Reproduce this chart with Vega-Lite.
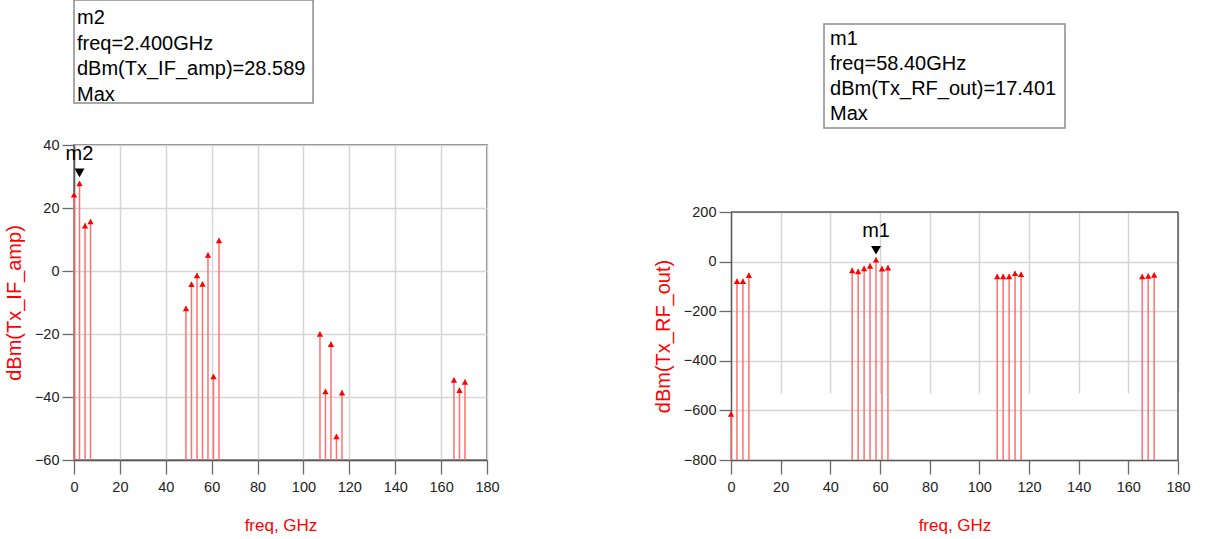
{
  "$schema": "https://vega.github.io/schema/vega-lite/v6.json",
  "padding": {"left": 3, "top": -2, "right": 0, "bottom": 0},
  "background": "white",
  "datasets": {
    "tx_if_amp": [
      {"freq": 0, "dbm": 25.0},
      {"freq": 2.4, "dbm": 28.589},
      {"freq": 4.8, "dbm": 15.2},
      {"freq": 7.2, "dbm": 16.5},
      {"freq": 48.8, "dbm": -11.1},
      {"freq": 51.2, "dbm": -3.4},
      {"freq": 53.6, "dbm": -0.6},
      {"freq": 56.0, "dbm": -3.3},
      {"freq": 58.4, "dbm": 5.9},
      {"freq": 60.8, "dbm": -32.7},
      {"freq": 63.2, "dbm": 10.5},
      {"freq": 107.2, "dbm": -19.2},
      {"freq": 109.6, "dbm": -37.4},
      {"freq": 112.0, "dbm": -22.4},
      {"freq": 114.4, "dbm": -51.7},
      {"freq": 116.8, "dbm": -37.8},
      {"freq": 165.6, "dbm": -33.8},
      {"freq": 168.0, "dbm": -37.0},
      {"freq": 170.4, "dbm": -34.4}
    ],
    "tx_rf_out": [
      {"freq": 0, "dbm": -604},
      {"freq": 2.4, "dbm": -69},
      {"freq": 4.8, "dbm": -69},
      {"freq": 7.2, "dbm": -45},
      {"freq": 48.8, "dbm": -25},
      {"freq": 51.2, "dbm": -29},
      {"freq": 53.6, "dbm": -17},
      {"freq": 56.0, "dbm": -7},
      {"freq": 58.4, "dbm": 17.401},
      {"freq": 60.8, "dbm": -18},
      {"freq": 63.2, "dbm": -14},
      {"freq": 107.2, "dbm": -50},
      {"freq": 109.6, "dbm": -50},
      {"freq": 112.0, "dbm": -50},
      {"freq": 114.4, "dbm": -37},
      {"freq": 116.8, "dbm": -41},
      {"freq": 165.6, "dbm": -50},
      {"freq": 168.0, "dbm": -48},
      {"freq": 170.4, "dbm": -44}
    ]
  },
  "config": {
    "font": "Liberation Sans",
    "view": {"stroke": "#5a5a5a", "strokeWidth": 1.5},
    "axis": {
      "domainColor": "#5a5a5a",
      "domainWidth": 1.5,
      "tickColor": "#6a6a6a",
      "tickWidth": 1.3,
      "gridColor": "#d6d6d6",
      "gridWidth": 1.5,
      "labelFont": "Liberation Sans",
      "labelFontSize": 14.5,
      "labelColor": "#222222",
      "labelFlush": false,
      "titleFont": "Liberation Sans",
      "titleColor": "#ff0000",
      "titleFontWeight": "normal"
    },
    "axisX": {"labelPadding": 6, "titlePadding": 24, "titleFontSize": 17},
    "axisY": {"labelPadding": 3, "titlePadding": 10, "titleFontSize": 20}
  },
  "spacing": 153,
  "hconcat": [
    {
      "width": 413,
      "height": 315,
      "layer": [
        {
          "data": {"name": "tx_if_amp"},
          "mark": {"type": "rule", "color": "#ff7070", "strokeWidth": 1.5},
          "encoding": {
            "x": {
              "field": "freq", "type": "quantitative", "title": "freq, GHz",
              "scale": {"domain": [0, 180], "nice": false},
              "axis": {
                "values": [0,10,20,30,40,50,60,70,80,90,100,110,120,130,140,150,160,170,180],
                "labelExpr": "datum.value % 20 === 0 ? datum.label : ''",
                "tickSize": {"condition": {"test": "datum.value % 20 === 0", "value": 14}, "value": 7},
                "gridOpacity": {"condition": {"test": "datum.value % 20 === 0", "value": 1}, "value": 0}
              }
            },
            "y": {
              "field": "dbm", "type": "quantitative", "title": "dBm(Tx_IF_amp)",
              "scale": {"domain": [-60, 40], "nice": false, "zero": false},
              "axis": {
                "values": [-60,-50,-40,-30,-20,-10,0,10,20,30,40],
                "labelExpr": "datum.value % 20 === 0 ? datum.label : ''",
                "tickSize": {"condition": {"test": "datum.value % 20 === 0", "value": 12}, "value": 6},
                "gridOpacity": {"condition": {"test": "datum.value % 20 === 0", "value": 1}, "value": 0}
              }
            },
            "y2": {"datum": -60}
          }
        },
        {
          "data": {"name": "tx_if_amp"},
          "mark": {"type": "point", "shape": "triangle-up", "filled": true, "color": "#ff0000", "opacity": 1, "size": 40, "yOffset": 2.6},
          "encoding": {
            "x": {"field": "freq", "type": "quantitative", "title": "freq, GHz"},
            "y": {"field": "dbm", "type": "quantitative", "title": "dBm(Tx_IF_amp)"}
          }
        },
        {
          "data": {"values": [{}]},
          "mark": {"type": "point", "shape": "triangle-down", "filled": true, "color": "#000000", "opacity": 1, "size": 100, "yOffset": -8},
          "encoding": {
            "x": {"datum": 2.4, "type": "quantitative", "title": "freq, GHz"},
            "y": {"datum": 28.589, "type": "quantitative", "title": "dBm(Tx_IF_amp)"}
          }
        },
        {
          "data": {"values": [{}]},
          "mark": {"type": "text", "text": "m2", "fontSize": 20, "color": "#000000", "baseline": "middle", "align": "center", "yOffset": -27},
          "encoding": {
            "x": {"datum": 2.4, "type": "quantitative", "title": "freq, GHz"},
            "y": {"datum": 28.589, "type": "quantitative", "title": "dBm(Tx_IF_amp)"}
          }
        },
        {
          "data": {"values": [{}]},
          "mark": {"type": "rect", "fill": "#ffffff", "stroke": "#8c8c8c", "strokeWidth": 1.5},
          "encoding": {
            "x": {"datum": 0, "type": "quantitative", "title": "freq, GHz"},
            "x2": {"datum": 104.2},
            "y": {"datum": 86.0, "type": "quantitative", "title": "dBm(Tx_IF_amp)"},
            "y2": {"datum": 53.3}
          }
        },
        {
          "data": {"values": [{}]},
          "mark": {"type": "text", "text": ["m2", "freq=2.400GHz", "dBm(Tx_IF_amp)=28.589", "Max"], "fontSize": 20, "color": "#000000", "align": "left", "baseline": "top", "lineHeight": 25.5},
          "encoding": {
            "x": {"datum": 1.3, "type": "quantitative", "title": "freq, GHz"},
            "y": {"datum": 83.43, "type": "quantitative", "title": "dBm(Tx_IF_amp)"}
          }
        }
      ]
    },
    {
      "width": 447,
      "height": 315,
      "view": {"stroke": null},
      "layer": [
        {
          "data": {"name": "tx_rf_out"},
          "mark": {"type": "rule", "color": "#ff7070", "strokeWidth": 1.5},
          "encoding": {
            "x": {
              "field": "freq", "type": "quantitative", "title": "freq, GHz",
              "scale": {"domain": [0, 180], "nice": false},
              "axis": {
                "values": [0,10,20,30,40,50,60,70,80,90,100,110,120,130,140,150,160,170,180],
                "labelExpr": "datum.value % 20 === 0 ? datum.label : ''",
                "tickSize": {"condition": {"test": "datum.value % 20 === 0", "value": 14}, "value": 7},
                "gridOpacity": {"condition": {"test": "datum.value % 20 === 0", "value": 1}, "value": 0}
              }
            },
            "y": {
              "field": "dbm", "type": "quantitative", "title": "dBm(Tx_RF_out)",
              "scale": {"domain": [-800, 200], "range": [315, 67], "nice": false, "zero": false},
              "axis": {
                "values": [-800,-700,-600,-500,-400,-300,-200,-100,0,100,200],
                "labelExpr": "datum.value % 200 === 0 ? datum.label : ''",
                "tickSize": {"condition": {"test": "datum.value % 200 === 0", "value": 12}, "value": 6},
                "gridOpacity": {"condition": {"test": "datum.value % 200 === 0", "value": 1}, "value": 0}
              }
            },
            "y2": {"datum": -800}
          }
        },
        {
          "data": {"values": [{}]},
          "mark": {"type": "rect", "fill": "#ffffff", "strokeWidth": 0},
          "encoding": {
            "x": {"datum": -1.5, "type": "quantitative", "title": "freq, GHz"},
            "x2": {"datum": 181.5},
            "y": {"datum": 475, "type": "quantitative", "title": "dBm(Tx_RF_out)"},
            "y2": {"datum": 202}
          }
        },
        {
          "data": {"values": [{}]},
          "mark": {"type": "rule", "color": "#5a5a5a", "strokeWidth": 1.5},
          "encoding": {
            "x": {"datum": 0, "type": "quantitative", "title": "freq, GHz"},
            "x2": {"datum": 180},
            "y": {"datum": 200, "type": "quantitative", "title": "dBm(Tx_RF_out)"}
          }
        },
        {
          "data": {"values": [{}]},
          "mark": {"type": "rule", "color": "#5a5a5a", "strokeWidth": 1.5},
          "encoding": {
            "x": {"datum": 180, "type": "quantitative", "title": "freq, GHz"},
            "y": {"datum": -800, "type": "quantitative", "title": "dBm(Tx_RF_out)"},
            "y2": {"datum": 200}
          }
        },
        {
          "data": {"name": "tx_rf_out"},
          "mark": {"type": "point", "shape": "triangle-up", "filled": true, "color": "#ff0000", "opacity": 1, "size": 40, "yOffset": 2.6},
          "encoding": {
            "x": {"field": "freq", "type": "quantitative", "title": "freq, GHz"},
            "y": {"field": "dbm", "type": "quantitative", "title": "dBm(Tx_RF_out)"}
          }
        },
        {
          "data": {"values": [{}]},
          "mark": {"type": "point", "shape": "triangle-down", "filled": true, "color": "#000000", "opacity": 1, "size": 100, "yOffset": -7},
          "encoding": {
            "x": {"datum": 58.4, "type": "quantitative", "title": "freq, GHz"},
            "y": {"datum": 17.401, "type": "quantitative", "title": "dBm(Tx_RF_out)"}
          }
        },
        {
          "data": {"values": [{}]},
          "mark": {"type": "text", "text": "m1", "fontSize": 20, "color": "#000000", "baseline": "middle", "align": "center", "yOffset": -26},
          "encoding": {
            "x": {"datum": 58.4, "type": "quantitative", "title": "freq, GHz"},
            "y": {"datum": 17.401, "type": "quantitative", "title": "dBm(Tx_RF_out)"}
          }
        },
        {
          "data": {"values": [{}]},
          "mark": {"type": "rect", "fill": "#ffffff", "stroke": "#8c8c8c", "strokeWidth": 1.5},
          "encoding": {
            "x": {"datum": 37.45, "type": "quantitative", "title": "freq, GHz"},
            "x2": {"datum": 134.5},
            "y": {"datum": 958.1, "type": "quantitative", "title": "dBm(Tx_RF_out)"},
            "y2": {"datum": 538.7}
          }
        },
        {
          "data": {"values": [{}]},
          "mark": {"type": "text", "text": ["m1", "freq=58.40GHz", "dBm(Tx_RF_out)=17.401", "Max"], "fontSize": 20, "color": "#000000", "align": "left", "baseline": "top", "lineHeight": 25},
          "encoding": {
            "x": {"datum": 39.87, "type": "quantitative", "title": "freq, GHz"},
            "y": {"datum": 937.1, "type": "quantitative", "title": "dBm(Tx_RF_out)"}
          }
        }
      ]
    }
  ]
}
